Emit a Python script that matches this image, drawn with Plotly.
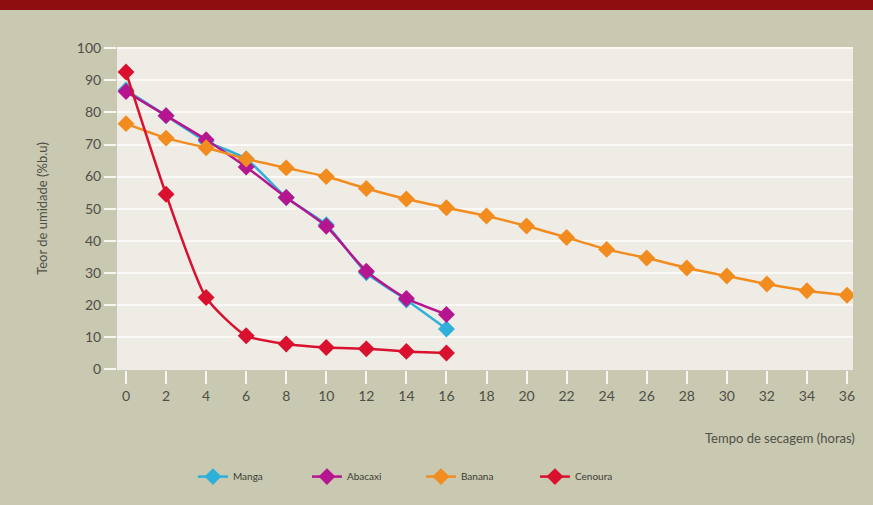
import plotly.graph_objects as go

# Drying time (hours) and moisture content (% wet basis) per fruit/vegetable
tempo_curto = [0, 2, 4, 6, 8, 10, 12, 14, 16]
tempo_banana = [0, 2, 4, 6, 8, 10, 12, 14, 16, 18, 20, 22, 24, 26, 28, 30, 32, 34, 36]

manga = [87, 79, 71, 65.5, 53.5, 45, 30, 21.5, 12.5]
abacaxi = [86.5, 79, 71.5, 63, 53.5, 44.5, 30.5, 22, 17]
banana = [76.5, 72, 69, 65.5, 62.7, 60, 56.3, 53, 50.3, 47.7, 44.6, 41, 37.3,
          34.6, 31.5, 29, 26.5, 24.4, 23]
cenoura = [92.6, 54.5, 22.3, 10.4, 7.8, 6.7, 6.3, 5.5, 5.0]

x_ticks = list(range(0, 37, 2))
y_ticks = list(range(0, 101, 10))

series = [
    ("Manga", tempo_curto, manga, "#2fb0da"),
    ("Abacaxi", tempo_curto, abacaxi, "#b5168f"),
    ("Banana", tempo_banana, banana, "#f28c1e"),
    ("Cenoura", tempo_curto, cenoura, "#d9102e"),
]

fig = go.Figure()
for name, xs, ys, color in series:
    fig.add_trace(go.Scatter(
        x=xs, y=ys, name=name, mode="lines+markers",
        line=dict(color=color, width=2.5, shape="spline", smoothing=0.6),
        marker=dict(symbol="diamond", size=13, color=color),
    ))

font_family = "Lato, 'Open Sans', sans-serif"
label_color = "#4f4f46"

fig.update_layout(
    width=873, height=505,
    paper_bgcolor="#c9c8b1",
    plot_bgcolor="#eeece5",
    margin=dict(l=117, r=20, t=47, b=135),
    font=dict(family=font_family, color=label_color, size=13),
    showlegend=True,
    legend=dict(
        orientation="h", x=0.413, xanchor="center", y=-0.33, yanchor="middle",
        font=dict(size=10, color="#3c3c34"),
        entrywidth=69, entrywidthmode="pixels",
        bgcolor="rgba(0,0,0,0)",
    ),
    shapes=[
        # dark red band along the top edge
        dict(type="rect", xref="paper", yref="paper", x0=-0.2, x1=1.2,
             y0=1.0 + 37 / 323, y1=1.3, fillcolor="#8e0d0f", line_width=0,
             layer="below"),
    ],
    annotations=[
        dict(text="Tempo de secagem (horas)", xref="paper", yref="paper",
             x=1.005, y=-0.21, xanchor="right", yanchor="middle",
             showarrow=False, font=dict(size=13, color=label_color)),
    ],
)

fig.update_xaxes(
    range=[-0.45, 36.3], tickvals=x_ticks,
    showgrid=False, zeroline=False, showline=False,
    ticks="outside", ticklen=13, tickwidth=2, tickcolor="#f7f6f1",
    tickfont=dict(size=14, color=label_color),
)
fig.update_yaxes(
    range=[-0.3, 100.4], tickvals=y_ticks,
    showgrid=True, gridcolor="#fbfaf7", gridwidth=2,
    zeroline=False, showline=False,
    ticks="outside", ticklen=12, tickwidth=2, tickcolor="#f7f6f1",
    tickfont=dict(size=14, color=label_color),
    title=dict(text="Teor de umidade (%b.u)", font=dict(size=13, color=label_color),
               standoff=26),
)

fig.write_html("out.html")
